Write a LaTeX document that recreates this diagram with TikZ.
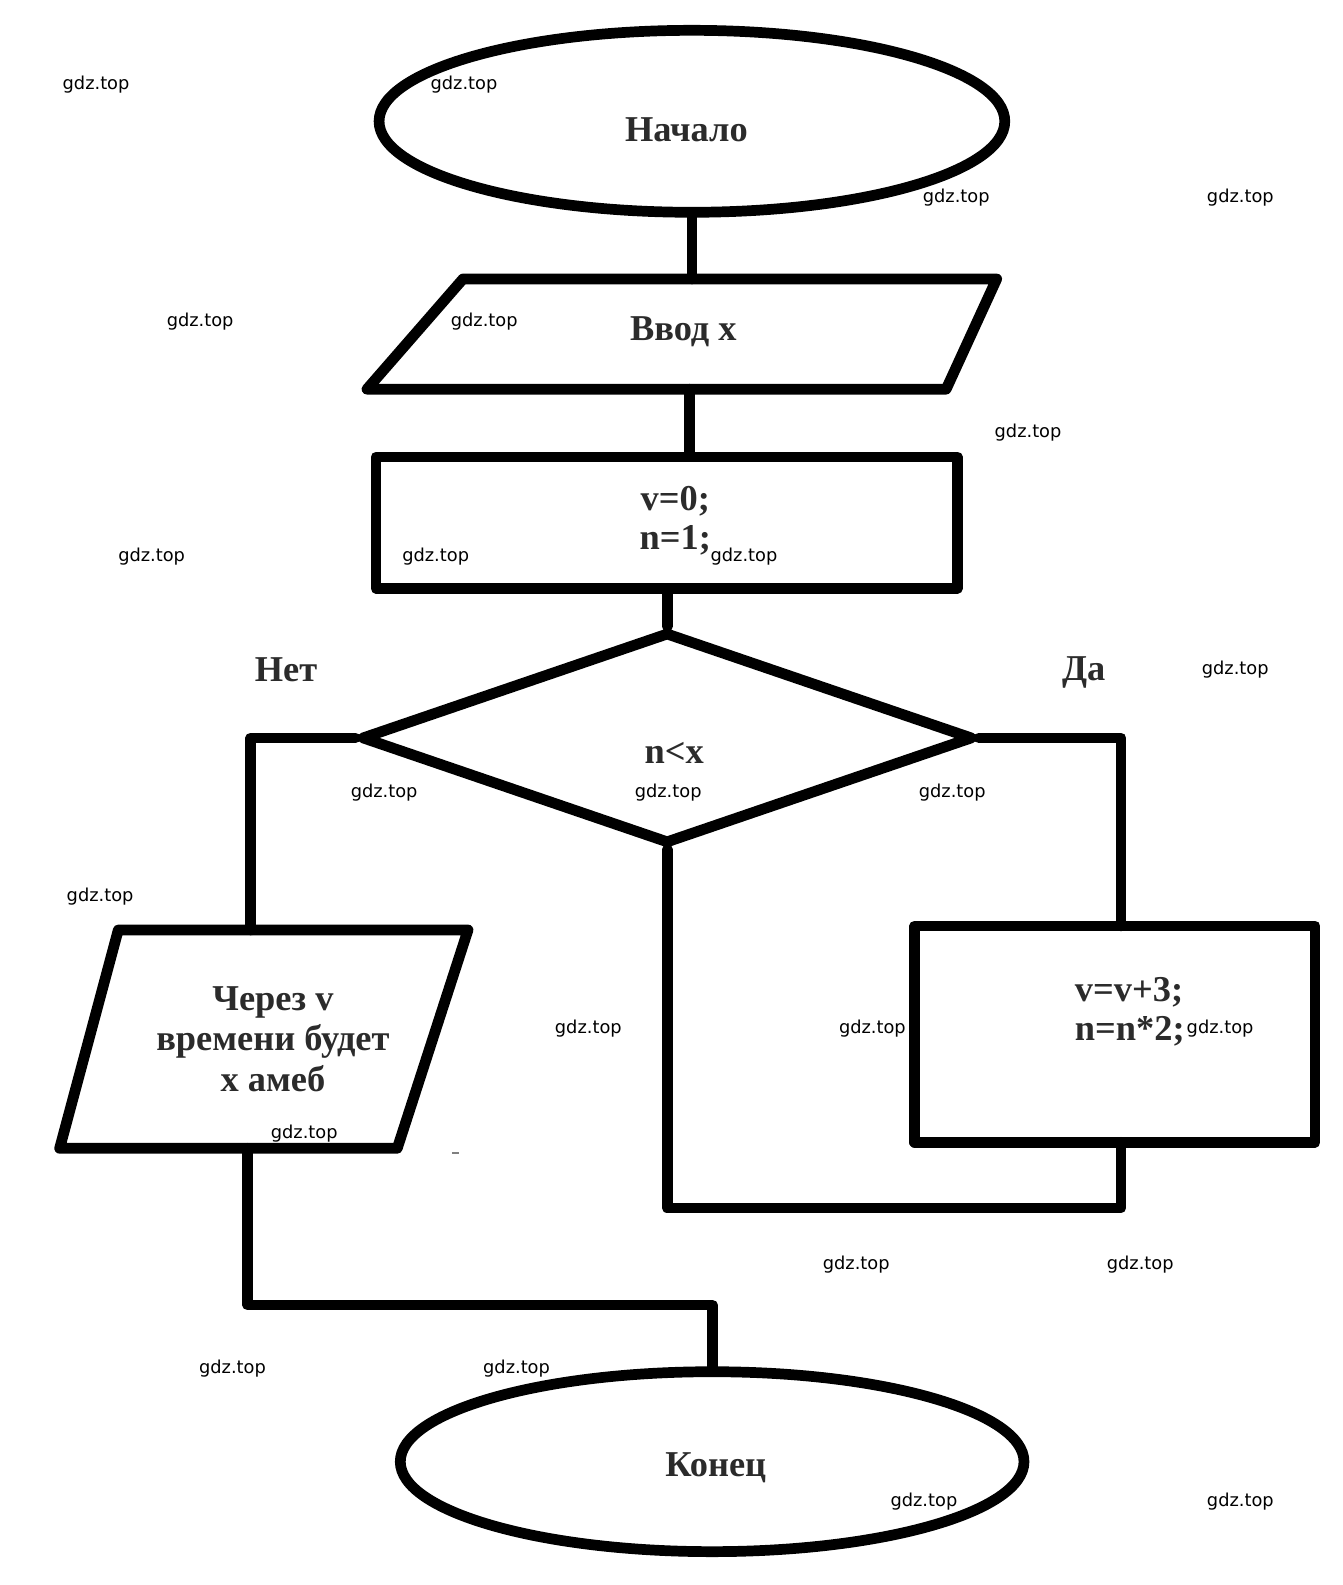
\documentclass[tikz,border=0pt]{standalone}
\usepackage{fontspec}
\setmainfont{Liberation Serif}
\newfontfamily\wmfont{DejaVu Sans}
\usetikzlibrary{shapes.geometric}
\definecolor{txtgray}{rgb}{0.17,0.17,0.17}
\begin{document}
\begin{tikzpicture}[x=0.5pt,y=-0.5pt,
  thickline/.style={line width=5.3pt, line join=round, line cap=round},
  shapebox/.style={draw, thickline, inner sep=0pt},
  lbl/.style={font=\fontsize{18}{20}\selectfont\bfseries, text=txtgray, align=center, inner sep=0pt},
  lbltight/.style={font=\fontsize{18}{19}\selectfont\bfseries, text=txtgray, align=center, inner sep=0pt},
  lblleft/.style={font=\fontsize{18}{19.5}\selectfont\bfseries, text=txtgray, align=left, inner sep=0pt},
  wm/.style={font=\wmfont\fontsize{8.8}{10}\selectfont, inner sep=0pt}
]
\useasboundingbox (0,0) rectangle (1328,1568);
\fill[white] (0,0) rectangle (1328,1568);

% shapes
\node[ellipse, shapebox, minimum width=309.5pt, minimum height=90pt] (start) at (684.5,120) {};
\coordinate (inTL) at (458,276);
\coordinate (inTR) at (986,276);
\coordinate (inBR) at (936,385);
\coordinate (inBL) at (363,385);
\coordinate (inB) at (682,385);
\draw[thickline] (inTL) -- (inTR) -- (inBR) -- (inBL) -- cycle;
\node[rectangle, shapebox, minimum width=287.5pt, minimum height=65pt] (init) at (659.5,517) {};
\node[diamond, shapebox, minimum width=303pt, minimum height=105pt] (cond) at (660,730) {};
\node[rectangle, shapebox, minimum width=198pt, minimum height=107pt] (calc) at (1103,1023) {};
\coordinate (oTL) at (117,920);
\coordinate (oTR) at (463,920);
\coordinate (oBR) at (393,1136);
\coordinate (oBL) at (59,1136);
\coordinate (oT) at (248,920);
\coordinate (oB) at (245,1136);
\draw[thickline] (oTL) -- (oTR) -- (oBR) -- (oBL) -- cycle;
\node[ellipse, shapebox, minimum width=308.5pt, minimum height=89pt] (finish) at (704.5,1446) {};

% connector points
\coordinate (cT) at (1109,916);
\coordinate (cB) at (1109,1130);
\coordinate (loopR) at (1109,1195);
\coordinate (loopL) at (660,1195);
\coordinate (jn) at (245,1291);

% connectors
\draw[thickline] (start.south) -- (start.south |- inTL);
\draw[thickline] (inB) -- (inB |- init.north);
\draw[thickline] (cond.north |- init.south) -- (cond.north);
\draw[thickline] (cond.west) -| (oT);
\draw[thickline] (cond.east) -| (cT);
\draw[thickline] (cB) -- (loopR) -- (loopL) -- (cond.south);
\draw[thickline] (oB) -- (jn) -- (jn -| finish.north) -- (finish.north);

% texts
\node[lbl] (startT) at (679,128) {Начало};
\node[lbl] (inT) at (676,328) {Ввод x};
\node[lbltight] (initT) at (668,515) {v=0;\\n=1;};
\node[lbl] (condT) at (667,745) {n<x};
\node[lbl] (no) at (283,663) {Нет};
\node[lbl] (yes) at (1072,665) {Да};
\node[lbl] (outT) at (270,1028) {Через v\\времени будет\\x амеб};
\node[lblleft, anchor=west] (calcT) at (1063,1001) {v=v+3;\\n=n*2;};
\node[lbl] (endT) at (708,1452) {Конец};

% stray mark
\draw[line width=1pt, gray] (447,1141) -- (454,1141);

% watermarks
\foreach \x/\y [count=\i] in {95/84, 459/84, 946/195, 1227/195, 198/318, 479/318, 1017/428, 150/551, 431/551, 736/551, 1222/662, 380/784, 661/784, 942/784, 99/887, 582/1018, 863/1018, 1207/1018, 301/1121, 847/1251, 1128/1251, 230/1354, 511/1354, 914/1485, 1227/1485}
  \node[wm] (wm\i) at (\x,\y) {gdz.top};
\end{tikzpicture}
\end{document}
